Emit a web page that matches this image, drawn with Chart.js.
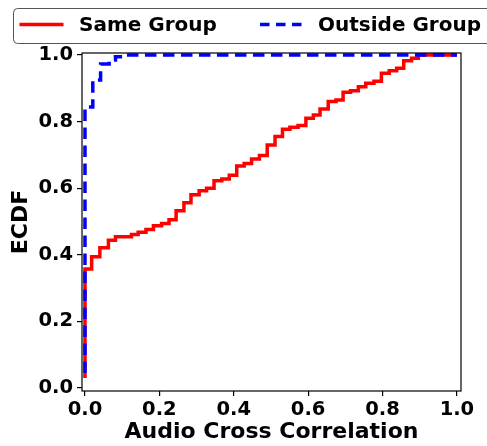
<!DOCTYPE html>
<html>
<head>
<meta charset="utf-8">
<script src="https://cdn.jsdelivr.net/npm/chart.js@4.4.1/dist/chart.umd.min.js"></script>
<style>
  html, body { margin: 0; padding: 0; background: #fff; }
  #wrap { width: 487px; height: 446px; position: relative; }
</style>
</head>
<body>
<div id="wrap"><canvas id="chart"></canvas></div>
<script>
// ECDF step points
const sameX = [0.0, 0.0, 0.018, 0.040, 0.063, 0.082, 0.125, 0.143, 0.164, 0.184, 0.206, 0.226, 0.245, 0.266,
  0.285, 0.307, 0.327, 0.347, 0.368, 0.388, 0.408, 0.428, 0.448, 0.469, 0.490, 0.511, 0.531, 0.551, 0.573,
  0.594, 0.614, 0.632, 0.654, 0.675, 0.694, 0.714, 0.735, 0.755, 0.777, 0.797, 0.818, 0.838, 0.857, 0.878,
  0.896, 1.0];
const sameY = [0.030, 0.357, 0.394, 0.421, 0.444, 0.454, 0.461, 0.468, 0.476, 0.487, 0.494, 0.505, 0.532, 0.556,
  0.580, 0.592, 0.600, 0.622, 0.628, 0.639, 0.667, 0.674, 0.688, 0.698, 0.730, 0.755, 0.777, 0.783, 0.788,
  0.810, 0.820, 0.838, 0.860, 0.865, 0.888, 0.893, 0.905, 0.915, 0.921, 0.945, 0.953, 0.960, 0.983, 0.990,
  1.0, 1.0];

const outsideX = [0.0, 0.0, 0.021, 0.042, 0.065, 0.082, 0.104, 1.0];
const outsideY = [0.045, 0.844, 0.925, 0.973, 0.985, 0.995, 1.0, 1.0];

const X_TICKS = [0.0, 0.2, 0.4, 0.6, 0.8, 1.0];
const Y_TICKS = [0.0, 0.2, 0.4, 0.6, 0.8, 1.0];

const FONT = 'DejaVu Sans';

function pts(xs, ys) { return xs.map((x, i) => ({ x, y: ys[i] })); }

// legend with a frame, matplotlib style
const legendBox = {
  id: 'legendBox',
  afterDraw(chart) {
    const ctx = chart.ctx;
    const ds = chart.data.datasets;
    ctx.save();
    ctx.strokeStyle = '#555';
    ctx.lineWidth = 1;
    ctx.beginPath();
    ctx.roundRect(13.5, 8.5, 490, 35, 4);
    ctx.stroke();

    const items = [
      { d: ds[0], x0: 19.5, x1: 63.5, tx: 79, dash: [] },
      { d: ds[1], x0: 260, x1: 302, tx: 318, dash: [9.5, 6.5] },
    ];
    ctx.font = 'bold 20px "' + FONT + '"';
    ctx.textBaseline = 'middle';
    ctx.fillStyle = '#000';
    for (const it of items) {
      ctx.strokeStyle = it.d.borderColor;
      ctx.lineWidth = 3.5;
      ctx.setLineDash(it.dash);
      ctx.beginPath();
      ctx.moveTo(it.x0, 24.5);
      ctx.lineTo(it.x1, 24.5);
      ctx.stroke();
      ctx.setLineDash([]);
      ctx.fillText(it.d.label, it.tx, 25.5);
    }
    ctx.restore();
  }
};

// full box around the plot
const frame = {
  id: 'frame',
  afterDatasetsDraw(chart) {
    const a = chart.chartArea;
    const ctx = chart.ctx;
    ctx.save();
    ctx.strokeStyle = '#000';
    ctx.lineWidth = 1.2;
    ctx.strokeRect(a.left, a.top, a.right - a.left, a.bottom - a.top);
    ctx.restore();
  }
};

const tickFont = { family: FONT, size: 19.5, weight: 'bold' };
const titleFont = { family: FONT, size: 22, weight: 'bold' };

new Chart(document.getElementById('chart'), {
  type: 'line',
  data: {
    datasets: [
      { label: 'Same Group', data: pts(sameX, sameY), borderColor: '#ff0000', borderWidth: 3.5,
        pointRadius: 0, stepped: 'before', fill: false, order: 1 },
      { label: 'Outside Group', data: pts(outsideX, outsideY), borderColor: '#0000ff', borderWidth: 3.5,
        borderDash: [11.5, 6.5], pointRadius: 0, stepped: 'before', fill: false, order: 0 },
    ]
  },
  options: {
    animation: false,
    responsive: true,
    maintainAspectRatio: false,
    devicePixelRatio: 1,
    layout: { padding: { top: 53, right: 26, left: 0, bottom: 0 } },
    plugins: { legend: { display: false }, tooltip: { enabled: false } },
    scales: {
      x: {
        type: 'linear', min: -0.008, max: 1.011,
        afterBuildTicks: (s) => { s.ticks = X_TICKS.map(v => ({ value: v })); },
        afterFit: (s) => { s.height = 55; },
        grid: { drawOnChartArea: false, drawTicks: true, tickLength: 5, color: '#000', lineWidth: 1.2 },
        border: { display: false },
        ticks: { color: '#000', font: tickFont, padding: 2, maxRotation: 0, callback: v => v.toFixed(1) },
        title: { display: true, text: 'Audio Cross Correlation', color: '#000', font: titleFont,
          padding: { top: 0, bottom: 1 } },
      },
      y: {
        type: 'linear', min: -0.009, max: 1.006,
        afterBuildTicks: (s) => { s.ticks = Y_TICKS.map(v => ({ value: v })); },
        afterFit: (s) => { s.width = 82; },
        grid: { drawOnChartArea: false, drawTicks: true, tickLength: 5, color: '#000', lineWidth: 1.2 },
        border: { display: false },
        ticks: { color: '#000', font: tickFont, padding: 4, callback: v => v.toFixed(1) },
        title: { display: true, text: 'ECDF', color: '#000', font: titleFont,
          padding: { top: 8, bottom: 0 } },
      }
    }
  },
  plugins: [legendBox, frame]
});
</script>
</body>
</html>
